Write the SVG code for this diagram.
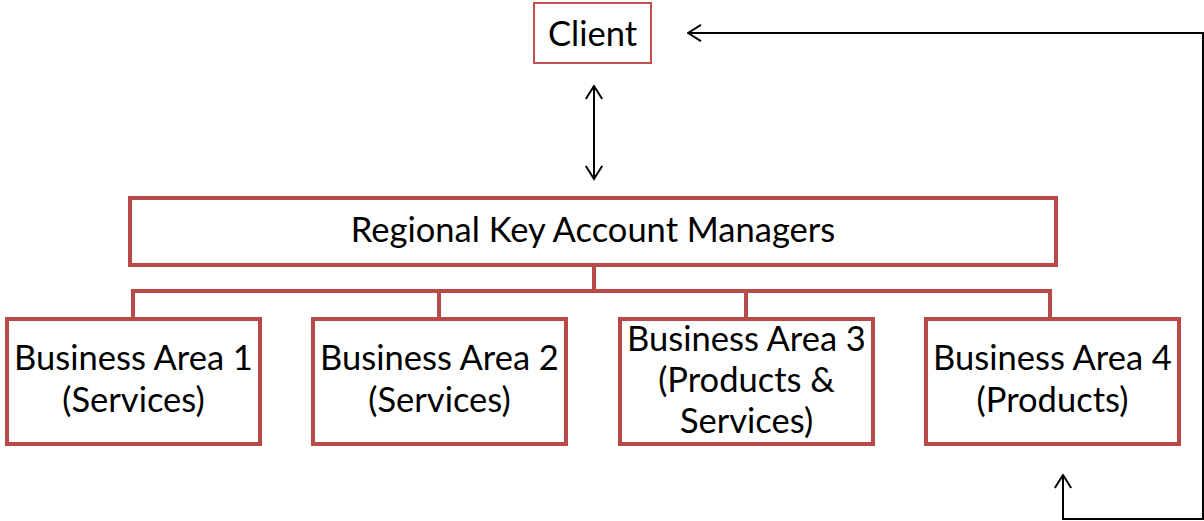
<svg xmlns="http://www.w3.org/2000/svg" width="1204" height="521" viewBox="0 0 1204 521">
  <style>
    .box { fill: #ffffff; stroke: #b94a47; stroke-width: 4; }
    .client { fill: #ffffff; stroke: #c0504d; stroke-width: 2; }
    .tree { fill: none; stroke: #b94a47; stroke-width: 4; }
    .link { fill: none; stroke: #000000; stroke-width: 2; }
    text { font-family: Lato, "Liberation Sans", sans-serif; font-size: 34.5px; fill: #000000; text-anchor: middle; }
  </style>
  <defs>
    <!-- open chevron arrowhead, about 13 long and 17 wide -->
    <marker id="open" viewBox="0 0 16 18" refX="14.5" refY="9" markerWidth="16" markerHeight="18" markerUnits="userSpaceOnUse" orient="auto-start-reverse">
      <path d="M1.5,0.8 L14.5,9 L1.5,17.2" fill="none" stroke="#000" stroke-width="2"/>
    </marker>
  </defs>

  <g id="connectors">
    <path class="tree" d="M594,265 V291 M133,318 V291 H1050 V318 M439,291 V318 M746,291 V318"/>
    <line class="link" x1="594" y1="86" x2="594" y2="179" marker-start="url(#open)" marker-end="url(#open)"/>
    <path class="link" d="M1063,475 V519 H1203 V33 H688" marker-end="url(#open)"/>
    <path class="link" d="M1063,500 V475" marker-end="url(#open)"/>
  </g>

  <g id="client">
    <rect class="client" x="534" y="3" width="117" height="60"/>
    <text x="592.5" y="46">Client</text>
  </g>

  <g id="managers">
    <rect class="box" x="130" y="198" width="926" height="67"/>
    <text x="593" y="242">Regional Key Account Managers</text>
  </g>

  <g id="area1">
    <rect class="box" x="7" y="319" width="253" height="125"/>
    <text x="133.5" y="370">Business Area 1</text>
    <text x="133.5" y="412">(Services)</text>
  </g>

  <g id="area2">
    <rect class="box" x="313" y="319" width="253" height="125"/>
    <text x="439.5" y="370">Business Area 2</text>
    <text x="439.5" y="412">(Services)</text>
  </g>

  <g id="area3">
    <rect class="box" x="620" y="319" width="253" height="125"/>
    <text x="746.5" y="351">Business Area 3</text>
    <text x="746.5" y="392">(Products &amp;</text>
    <text x="746.5" y="433">Services)</text>
  </g>

  <g id="area4">
    <rect class="box" x="926" y="319" width="253" height="125"/>
    <text x="1052.5" y="370">Business Area 4</text>
    <text x="1052.5" y="412">(Products)</text>
  </g>
</svg>
